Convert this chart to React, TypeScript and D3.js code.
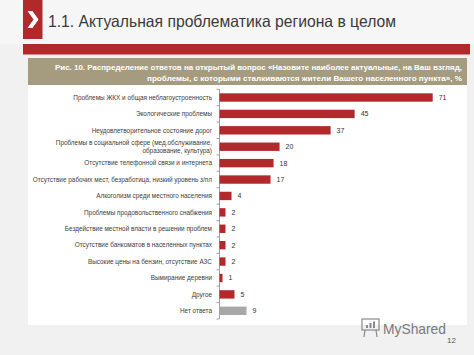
import React from "react";
import * as d3 from "d3";

const categories: string[][] = [
  ["Проблемы ЖКХ и общая неблагоустроенность"],
  ["Экологические проблемы"],
  ["Неудовлетворительное состояние дорог"],
  ["Проблемы в социальной сфере (мед.обслуживание,", "образование, культура)"],
  ["Отсутствие телефонной связи и интернета"],
  ["Отсутствие рабочих мест, безработица, низкий уровень з/пл"],
  ["Алкоголизм среди местного населения"],
  ["Проблемы продовольственного снабжения"],
  ["Бездействие местной власти в решении проблем"],
  ["Отсутствие банкоматов в населенных пунктах"],
  ["Высокие цены на бензин, отсутствие АЗС"],
  ["Вымирание деревни"],
  ["Другое"],
  ["Нет ответа"],
];
const values: number[] = [71, 45, 37, 20, 18, 17, 4, 2, 2, 2, 2, 1, 5, 9];
const highlightGrey: boolean[] = [false, false, false, false, false, false, false, false, false, false, false, false, false, true];

const titleText = "1.1. Актуальная проблематика региона в целом";
const captionLines = [
  "Рис. 10. Распределение ответов на открытый вопрос «Назовите наиболее актуальные, на Ваш взгляд,",
  "проблемы, с которыми сталкиваются жители Вашего населенного пункта», %",
];

export default function App() {
  const W = 474;
  const H = 355;
  const keys = categories.map((_, i) => String(i));
  const y = d3.scaleBand<string>().domain(keys).range([89.3, 319]).paddingInner(0.49).paddingOuter(0.245);
  const x = d3.scaleLinear().domain([0, 71]).range([219.5, 432.7]);
  const step = y.step();
  const font = "'Liberation Sans', Arial, sans-serif";
  const red = "#b2292b";

  return (
    <svg width={W} height={H} style={{ position: "absolute", left: 0, top: 0, display: "block" }} fontFamily={font}>
      <rect x={0} y={0} width={W} height={H} fill="#f1f1f1" />
      <rect x={0} y={0} width={W} height={44} fill="#f6f6f6" />
      {/* red square with chevron */}
      <rect x={23} y={0} width={19.5} height={39} fill={red} />
      <path d="M27.5,11 L33.5,19.5 L27.5,28 L32.5,28 L38.5,19.5 L32.5,11 Z" fill="#ffffff" />
      <text x={48} y={27} fontSize={16.5} fill="#3a3a3a" textLength={348} lengthAdjust="spacingAndGlyphs">{titleText}</text>
      {/* red band */}
      <rect x={23} y={44} width={447} height={10.5} fill={red} />
      {/* white panel */}
      <rect x={28} y={85} width={439} height={240} fill="#ffffff" />
      {/* caption box */}
      <rect x={28} y={58} width={439} height={27} fill="#a59b7f" />
      <text x={462} y={70} textAnchor="end" fontSize={8} fontWeight="bold" fill="#ffffff" textLength={407} lengthAdjust="spacingAndGlyphs">{captionLines[0]}</text>
      <text x={462} y={81} textAnchor="end" fontSize={8} fontWeight="bold" fill="#ffffff" textLength={315} lengthAdjust="spacingAndGlyphs">{captionLines[1]}</text>

      {/* axis */}
      <line x1={x(0)} x2={x(0)} y1={89.3} y2={319} stroke="#8c8c8c" strokeWidth={0.8} />
      {d3.range(categories.length + 1).map((i) => {
        const yy = 89.3 + i * step;
        return <line key={"t" + i} x1={x(0) - 3} x2={x(0)} y1={yy} y2={yy} stroke="#8c8c8c" strokeWidth={0.8} />;
      })}

      {values.map((v, i) => {
        const yc = (y(String(i)) as number) + y.bandwidth() / 2;
        const lines = categories[i];
        return (
          <g key={i}>
            <rect
              x={x(0)}
              y={y(String(i))}
              width={x(v) - x(0)}
              height={y.bandwidth()}
              fill={highlightGrey[i] ? "#a8a8a8" : red}
            />
            <text x={x(v) + 6} y={yc} dy="0.35em" fontSize={7} fill="#333">{v}</text>
            {lines.map((l, j) => (
              <text
                key={j}
                x={212}
                y={yc + (j - (lines.length - 1) / 2) * 7.8}
                dy="0.35em"
                textAnchor="end"
                fontSize={6.4}
                fill="#404040"
              >
                {l}
              </text>
            ))}
          </g>
        );
      })}

      {/* watermark */}
      <g stroke="#8a8a8a" fill="none" strokeWidth={1.2}>
        <rect x={362} y={319} width={17} height={11} />
        <line x1={365} y1={330} x2={364} y2={337} />
        <line x1={376} y1={330} x2={377} y2={337} />
      </g>
      <g fill="#8a8a8a">
        <rect x={366} y={325} width={2} height={3} />
        <rect x={369.5} y={323} width={2} height={5} />
        <rect x={373} y={321.5} width={2} height={6.5} />
      </g>
      <text x={383} y={334} fontSize={15} fill="#7a7a7a" textLength={63} lengthAdjust="spacingAndGlyphs">MyShared</text>
      <text x={447} y={343} fontSize={8} fill="#555">12</text>
    </svg>
  );
}
